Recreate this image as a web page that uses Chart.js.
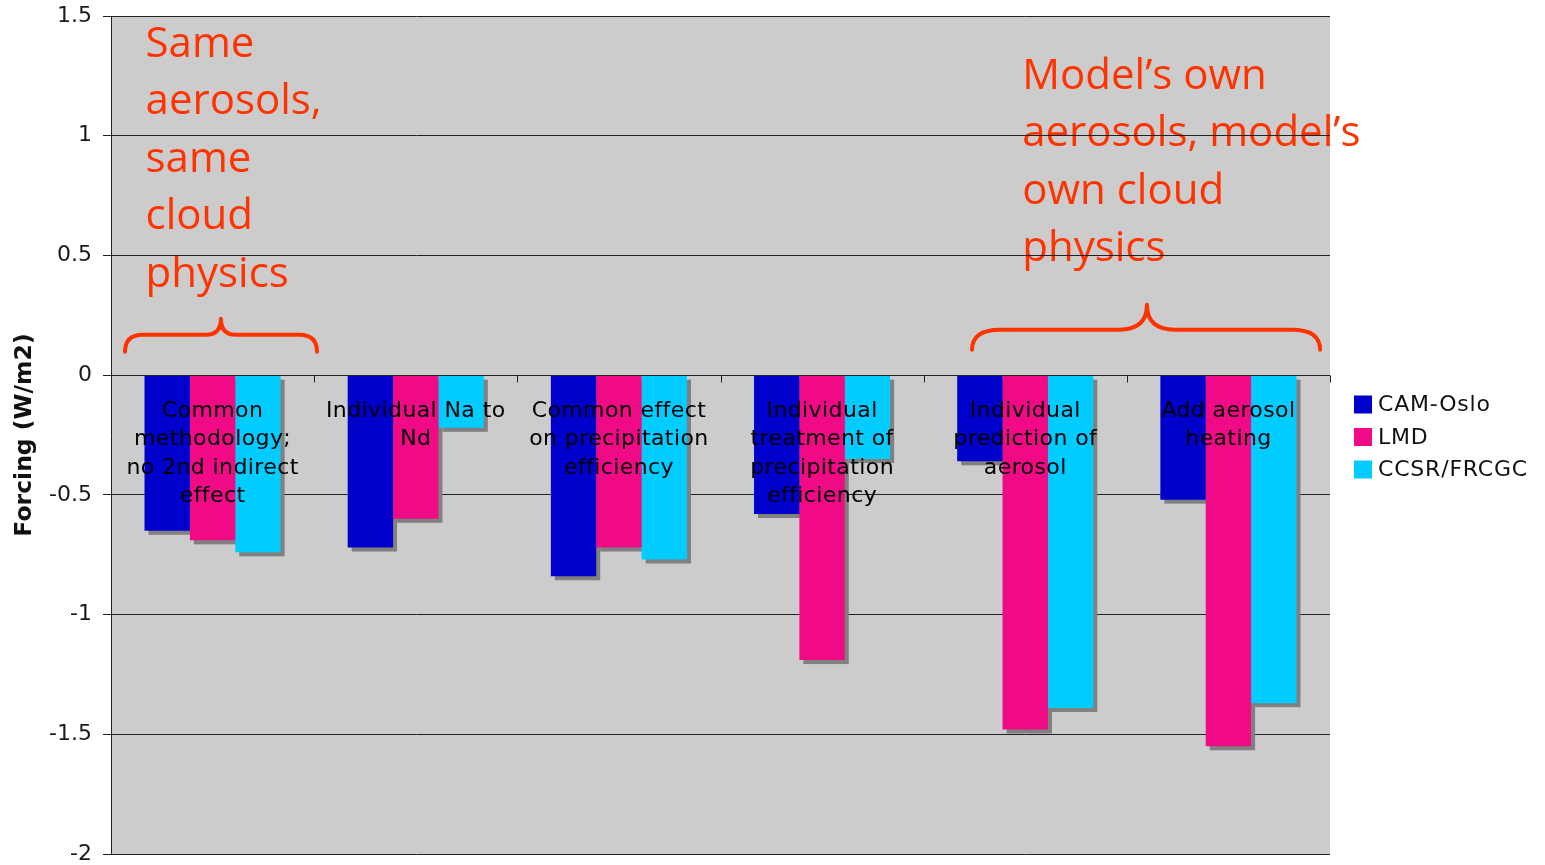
<!DOCTYPE html>
<html>
<head>
<meta charset="utf-8">
<script src="https://cdn.jsdelivr.net/npm/chart.js@4/dist/chart.umd.min.js"></script>
<style>
  html, body { margin: 0; padding: 0; background: #ffffff; }
  #wrap { width: 1545px; height: 865px; }
</style>
</head>
<body>
<div id="wrap"><canvas id="c" width="1545" height="865"></canvas></div>
<script>
// Experiment categories (multi-line labels drawn under the zero line)
const categories = [
  ['Common', 'methodology;', 'no 2nd indirect', 'effect'],
  ['Individual Na to', 'Nd'],
  ['Common effect', 'on precipitation', 'efficiency'],
  ['Individual', 'treatment of', 'precipitation', 'efficiency'],
  ['Individual', 'prediction of', 'aerosol'],
  ['Add aerosol', 'heating']
];

// Models
const seriesNames = ['CAM-Oslo', 'LMD', 'CCSR/FRCGC'];

// Forcing (W/m2) per experiment
const camOslo = [-0.65, -0.72, -0.84, -0.58, -0.36, -0.52];
const lmd     = [-0.69, -0.60, -0.72, -1.19, -1.48, -1.55];
const ccsr    = [-0.74, -0.22, -0.77, -0.35, -1.39, -1.37];

// Value axis ticks
const yTicks = [1.5, 1, 0.5, 0, -0.5, -1, -1.5, -2];

// Annotation texts
const noteLeft  = ['Same', 'aerosols,', 'same', 'cloud', 'physics'];
const noteRight = ['Model\u2019s own', 'aerosols, model\u2019s', 'own cloud', 'physics'];

const seriesColors = ['#0000CC', '#F00A86', '#00CCFF'];
const accent = '#FF3300';

// Annotation placement in axis units (x: category index, y: forcing)
const notes = [
  { lines: noteLeft,  x: -0.33, y: 1.33 },
  { lines: noteRight, x: 3.985, y: 1.197 }
];
const noteStep = 0.2405;
const braces = [
  { x0: -0.431, xm: 0.041, x1: 0.514, yEnd: 0.098, yMid: 0.169, yTip: 0.236, r: 18, rTip: 15 },
  { x0: 3.738,  xm: 4.599, x1: 5.451, yEnd: 0.106, yMid: 0.190, yTip: 0.294, r: 28, rTip: 28 }
];

const FONT = 'DejaVu Sans';

// Gray plot background plus text and brace annotations (under the grid)
const backdrop = {
  id: 'backdrop',
  beforeDraw(chart) {
    const { ctx, chartArea: a, scales: { x, y } } = chart;
    ctx.save();
    ctx.fillStyle = '#CCCCCC';
    ctx.fillRect(a.left, a.top, a.right - a.left, a.bottom - a.top);

    ctx.fillStyle = accent;
    ctx.font = '42px "Open Sans"';
    ctx.textAlign = 'left';
    ctx.textBaseline = 'alphabetic';
    notes.forEach(n => {
      const px = x.getPixelForValue(n.x);
      n.lines.forEach((t, k) => {
        ctx.fillText(t, px, y.getPixelForValue(n.y - k * noteStep));
      });
    });

    ctx.strokeStyle = accent;
    ctx.lineWidth = 4;
    ctx.lineCap = 'round';
    ctx.lineJoin = 'round';
    braces.forEach(b => {
      const x0 = x.getPixelForValue(b.x0), xm = x.getPixelForValue(b.xm), x1 = x.getPixelForValue(b.x1);
      const ye = y.getPixelForValue(b.yEnd), yh = y.getPixelForValue(b.yMid), yt = y.getPixelForValue(b.yTip);
      ctx.beginPath();
      ctx.moveTo(x0, ye);
      ctx.quadraticCurveTo(x0, yh, x0 + b.r, yh);
      ctx.lineTo(xm - b.rTip, yh);
      ctx.quadraticCurveTo(xm, yh, xm, yt);
      ctx.quadraticCurveTo(xm, yh, xm + b.rTip, yh);
      ctx.lineTo(x1 - b.r, yh);
      ctx.quadraticCurveTo(x1, yh, x1, ye);
      ctx.stroke();
    });
    ctx.restore();
  }
};

// Flat gray drop shadow behind every bar
const barShadow = {
  id: 'barShadow',
  beforeDatasetsDraw(chart) {
    const { ctx } = chart;
    ctx.save();
    ctx.fillStyle = '#808080';
    chart.data.datasets.forEach((ds, i) => {
      chart.getDatasetMeta(i).data.forEach(bar => {
        const { x, y, base, width } = bar.getProps(['x', 'y', 'base', 'width'], true);
        const top = Math.min(y, base);
        ctx.fillRect(x - width / 2 + 4, top + 4, width, Math.abs(base - y));
      });
    });
    ctx.restore();
  }
};

// Zero axis line, category tick marks and category labels over the bars
const categoryAxis = {
  id: 'categoryAxis',
  afterDatasetsDraw(chart) {
    const { ctx, chartArea: a, scales: { x, y } } = chart;
    const y0 = Math.round(y.getPixelForValue(0)) + 0.5;
    ctx.save();
    ctx.strokeStyle = '#222222';
    ctx.lineWidth = 1;
    ctx.beginPath();
    ctx.moveTo(a.left, y0);
    ctx.lineTo(a.right, y0);
    for (let i = 0; i <= categories.length; i++) {
      const px = Math.round(x.getPixelForValue(i - 0.5)) + 0.5;
      ctx.moveTo(px, y0);
      ctx.lineTo(px, y0 + 7);
    }
    ctx.stroke();

    ctx.fillStyle = '#000000';
    ctx.font = '22px "' + FONT + '"';
    ctx.letterSpacing = '0.4px';
    ctx.textAlign = 'center';
    ctx.textBaseline = 'alphabetic';
    categories.forEach((lines, i) => {
      const px = x.getPixelForValue(i);
      lines.forEach((t, k) => ctx.fillText(t, px, y0 + 41 + k * 28.5));
    });
    ctx.restore();
  }
};

// Legend to the right of the plot
const sideLegend = {
  id: 'sideLegend',
  afterDraw(chart) {
    const { ctx, chartArea: a } = chart;
    const cy = (a.top + a.bottom) / 2 + 2;
    const n = chart.data.datasets.length;
    ctx.save();
    ctx.font = '22px "' + FONT + '"';
    ctx.letterSpacing = '0.8px';
    ctx.textAlign = 'left';
    ctx.textBaseline = 'middle';
    chart.data.datasets.forEach((ds, i) => {
      const rowY = cy + (i - (n - 1) / 2) * 32.5;
      ctx.fillStyle = ds.backgroundColor;
      ctx.fillRect(a.right + 24, rowY - 9, 18, 18);
      ctx.fillStyle = '#111111';
      ctx.fillText(ds.label, a.right + 48, rowY + 1);
    });
    ctx.restore();
  }
};

const seriesValues = [camOslo, lmd, ccsr];

new Chart(document.getElementById('c'), {
  type: 'bar',
  data: {
    labels: categories.map(c => c.join(' ')),
    datasets: seriesNames.map((name, i) => ({
      label: name,
      data: seriesValues[i],
      backgroundColor: seriesColors[i],
      borderWidth: 0
    }))
  },
  options: {
    responsive: false,
    animation: false,
    devicePixelRatio: 1,
    layout: { padding: { left: 0, top: 16, right: 215, bottom: 11 } },
    datasets: { bar: { categoryPercentage: 0.67, barPercentage: 1.0 } },
    plugins: { legend: { display: false }, tooltip: { enabled: false } },
    scales: {
      x: { display: false },
      y: {
        min: yTicks[yTicks.length - 1],
        max: yTicks[0],
        afterBuildTicks: s => { s.ticks = yTicks.map(v => ({ value: v })); },
        afterFit: s => { s.width = 111; s.paddingTop = 0; s.paddingBottom = 0; },
        grid: { color: '#222222', lineWidth: 1, tickLength: 8 },
        border: { display: true, color: '#222222', width: 1 },
        ticks: {
          font: { family: FONT, size: 22 },
          color: '#1a1a1a',
          padding: 11,
          callback: v => String(v)
        },
        title: {
          display: true,
          text: 'Forcing (W/m2)',
          font: { family: FONT, size: 23.5, weight: 'bold' },
          color: '#111111',
          padding: { top: 11, bottom: 0 }
        }
      }
    }
  },
  plugins: [backdrop, barShadow, categoryAxis, sideLegend]
});
</script>
</body>
</html>
